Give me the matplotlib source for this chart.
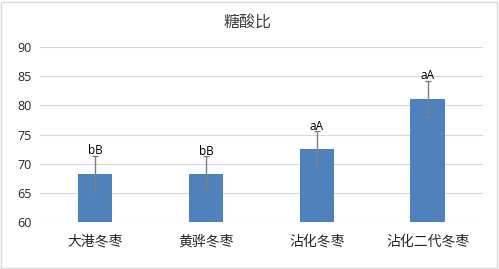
import matplotlib.pyplot as plt
from matplotlib.patches import Rectangle

plt.rcParams['font.family'] = ['Noto Sans CJK SC', 'DejaVu Sans']

# 数据
categories = ['大港冬枣', '黄骅冬枣', '沾化冬枣', '沾化二代冬枣']
values = [68.3, 68.3, 72.6, 81.15]
errors = [3.05, 3.0, 3.0, 3.05]
letters = ['bB', 'bB', 'aA', 'aA']
yticks = [60, 65, 70, 75, 80, 85, 90]

fig = plt.figure(figsize=(4.99, 2.69), dpi=100)
ax = fig.add_axes([0.080, 0.1736, 0.888, 0.6517])

x = range(len(categories))
ax.bar(x, [v - 60 for v in values], bottom=60, width=0.31, color='#4F81BD', zorder=3)
ax.errorbar(x, values, yerr=errors, fmt='none', ecolor='#7f7f7f', elinewidth=1,
            capsize=2.5, capthick=1, zorder=4)

for i, (v, e, t) in enumerate(zip(values, errors, letters)):
    ax.text(i, v + e - 0.25, t, ha='center', va='bottom', fontsize=8.5,
            family=['Open Sans', 'DejaVu Sans'], color='#000000', zorder=5)

ax.set_xlim(-0.5, len(categories) - 0.5)
ax.set_ylim(60, 90)
ax.set_yticks(yticks)
ax.set_xticks(list(x))
ax.set_xticklabels(categories, fontsize=10, color='#262626')
for lab in ax.get_yticklabels():
    lab.set_fontfamily(['Open Sans', 'DejaVu Sans'])
    lab.set_fontsize(9)
    lab.set_color('#262626')
ax.tick_params(axis='both', length=0, pad=6)
ax.tick_params(axis='x', pad=9)
ax.yaxis.grid(True, color='#d9d9d9', linewidth=0.8, zorder=0)
for s in ax.spines.values():
    s.set_visible(False)

fig.text(0.497, 0.918, '糖酸比', ha='center', va='center', fontsize=11.5, color='#404040')

# 外框
fig.patches.append(Rectangle((0.002, 0.004), 0.994, 0.99, transform=fig.transFigure,
                             fill=False, edgecolor='#d9d9d9', linewidth=1))

fig.savefig('out.png', dpi=100)
